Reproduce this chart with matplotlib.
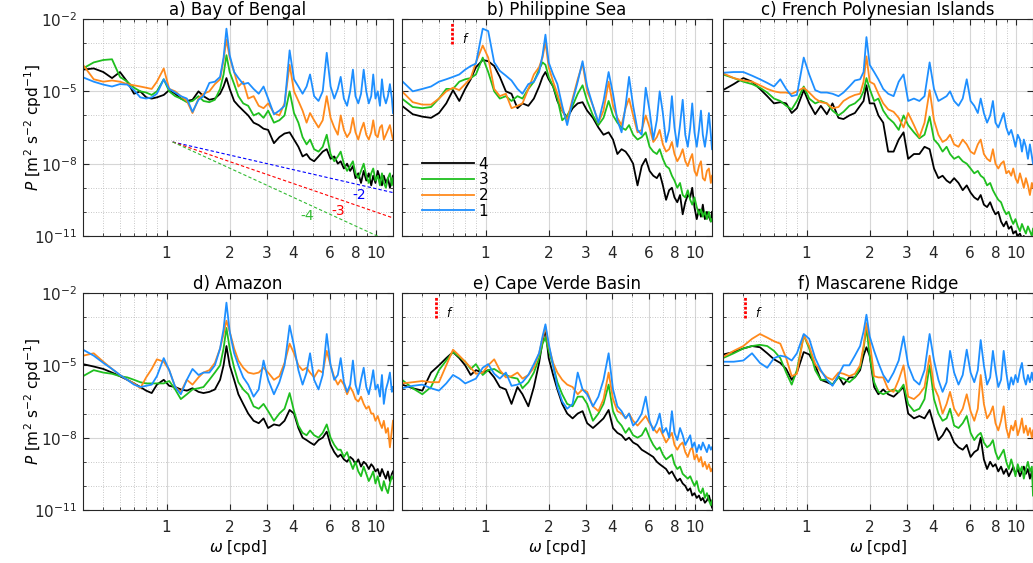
import numpy as np
import matplotlib.pyplot as plt
from matplotlib.ticker import FixedLocator, NullFormatter

plt.rcParams.update({
    'font.family': 'DejaVu Sans',
    'font.size': 11,
    'axes.linewidth': 0.8,
    'axes.edgecolor': '#262626',
    'xtick.color': '#262626',
    'ytick.color': '#262626',
})

# ========== DATA (frequency in cpd, spectra stored as log10 P) ==========
freq = [0.40, 0.45, 0.50, 0.55, 0.60, 0.65, 0.70, 0.75, 0.80, 0.85, 0.90, 0.97,
        1.03, 1.10, 1.17, 1.25, 1.33, 1.42, 1.50, 1.60, 1.70, 1.80, 1.87, 1.93,
        2.00, 2.10, 2.20, 2.32, 2.45, 2.60, 2.75, 2.90, 3.05, 3.25, 3.45, 3.65,
        3.86, 4.05, 4.25, 4.45, 4.65, 4.83, 5.05, 5.30, 5.55, 5.80, 6.05, 6.30,
        6.55, 6.76, 7.00, 7.25, 7.50, 7.73, 7.95, 8.20, 8.45, 8.70, 8.95, 9.20,
        9.45, 9.66, 9.90, 10.15, 10.40, 10.63, 10.85, 11.10, 11.35, 11.60, 11.85, 12.0]

# a) Bay of Bengal
bengal_4 = [-4.1, -4.05, -4.2, -4.45, -4.2, -4.6, -5.1, -5.0, -5.25, -5.3, -5.25, -5.15,
            -4.95, -5.1, -5.3, -5.4, -5.35, -5.0, -5.2, -5.35, -5.3, -5.1, -4.8, -4.45,
            -4.9, -5.4, -5.6, -5.8, -6.0, -6.3, -6.4, -6.55, -6.6, -7.15, -6.9, -6.75,
            -6.7, -7.0, -7.3, -7.7, -7.6, -7.8, -7.9, -7.7, -7.5, -7.4, -7.8, -7.7,
            -8.0, -7.9, -8.2, -8.0, -8.3, -8.1, -8.6, -8.4, -8.8, -8.3, -8.7, -8.4,
            -8.9, -8.5, -8.8, -8.3, -8.6, -8.9, -8.5, -8.8, -8.6, -9.0, -8.7, -8.5]
bengal_3 = [-4.05, -3.8, -3.7, -3.67, -4.4, -4.6, -4.85, -5.0, -5.05, -5.15, -5.0, -4.5,
            -5.0, -5.2, -5.3, -5.45, -5.4, -5.2, -5.4, -5.45, -5.35, -4.9, -4.3, -3.5,
            -4.2, -4.7, -5.2, -5.5, -5.6, -6.0, -5.9, -6.1, -5.8, -6.3, -6.2, -6.0,
            -5.0, -5.9, -6.3, -6.9, -7.2, -7.0, -7.4, -7.5, -7.3, -6.8, -7.6, -7.9,
            -7.7, -7.5, -8.0, -8.3, -8.1, -7.9, -8.4, -8.6, -8.3, -8.0, -8.5, -8.8,
            -8.4, -8.2, -8.7, -8.5, -8.9, -8.4, -8.8, -9.0, -8.6, -8.4, -8.9, -8.6]
bengal_2 = [-3.9, -4.5, -4.6, -4.55, -4.6, -4.7, -4.75, -4.8, -4.85, -4.9, -4.6, -4.05,
            -4.9, -5.0, -5.2, -5.4, -5.9, -5.3, -5.1, -5.0, -4.7, -4.5, -3.7, -2.85,
            -3.6, -4.2, -4.8, -4.6, -5.3, -5.2, -5.6, -5.7, -5.5, -5.9, -6.0, -5.5,
            -3.9, -5.0, -5.4, -5.8, -6.3, -5.9, -6.2, -6.5, -6.2, -5.2, -6.1, -6.5,
            -6.8, -6.0, -6.6, -6.9, -6.7, -6.1, -6.7, -7.0, -6.6, -6.3, -6.8, -7.0,
            -6.7, -6.2, -6.8, -6.9, -6.5, -6.4, -7.0, -6.8, -6.6, -6.4, -6.8, -7.0]
bengal_1 = [-4.42, -4.6, -4.72, -4.8, -4.7, -4.72, -4.95, -5.25, -5.3, -5.25, -5.1, -4.5,
            -4.9, -5.05, -5.2, -5.3, -5.85, -5.35, -5.2, -4.65, -4.6, -4.4, -3.6, -2.4,
            -3.5, -4.2, -4.45, -4.7, -4.65, -4.9, -5.1, -4.8, -5.3, -5.95, -5.8, -5.6,
            -3.3, -4.5, -4.8, -5.1, -4.8, -4.3, -5.2, -5.4, -5.0, -3.4, -4.8, -5.3,
            -4.9, -4.4, -5.3, -5.6, -5.0, -4.1, -5.2, -5.5, -5.1, -4.1, -5.0, -5.5,
            -5.2, -4.3, -5.3, -5.0, -5.6, -4.5, -5.2, -5.5, -5.2, -4.7, -5.3, -5.9]

# b) Philippine Sea
philippine_4 = [-5.6, -5.95, -6.05, -6.1, -5.9, -5.5, -4.95, -5.4, -4.9, -4.5, -4.0, -3.7,
                -3.75, -3.95, -4.4, -5.0, -5.1, -5.7, -5.5, -5.6, -5.3, -4.8, -4.4, -4.2,
                -4.5, -4.8, -5.4, -5.8, -6.1, -5.7, -5.5, -5.45, -5.8, -6.1, -6.5, -6.8,
                -6.7, -7.0, -7.6, -7.4, -7.5, -7.7, -8.0, -8.9, -8.1, -7.8, -8.3, -8.5,
                -8.6, -8.4, -8.9, -9.5, -9.1, -9.0, -9.4, -9.6, -9.3, -10.1, -9.6, -9.3,
                -9.4, -9.0, -9.8, -10.3, -9.9, -10.2, -9.7, -10.3, -10.0, -10.2, -10.4, -10.0]
philippine_3 = [-5.3, -5.65, -5.7, -5.65, -5.3, -4.9, -4.9, -4.6, -4.5, -4.45, -4.3, -3.6,
                -4.2, -5.0, -5.3, -5.2, -5.4, -5.2, -5.3, -4.9, -4.6, -4.1, -3.8, -3.9,
                -4.4, -4.8, -5.3, -6.2, -6.0, -5.6, -5.1, -4.75, -5.4, -6.0, -6.4, -6.1,
                -5.4, -6.0, -6.3, -6.5, -6.6, -6.4, -6.8, -7.0, -6.9, -6.7, -7.3, -7.5,
                -7.6, -7.4, -7.8, -8.1, -8.2, -8.5, -8.7, -9.0, -8.8, -9.3, -9.4, -9.1,
                -9.5, -9.7, -9.4, -9.8, -10.1, -9.9, -10.2, -10.0, -10.3, -10.0, -10.4, -10.3]
philippine_2 = [-5.0, -5.45, -5.55, -5.55, -5.3, -5.0, -4.85, -4.95, -4.7, -4.45, -3.8, -3.1,
                -3.6, -4.9, -5.2, -5.1, -5.7, -5.6, -5.5, -4.9, -4.3, -4.0, -3.6, -2.95,
                -4.0, -4.6, -5.1, -5.8, -6.2, -5.3, -4.5, -3.85, -5.0, -5.6, -6.3, -5.8,
                -4.6, -5.6, -6.1, -6.4, -5.7, -5.3, -6.0, -6.7, -6.6, -6.0, -6.5, -7.1,
                -6.9, -6.6, -7.2, -7.5, -7.4, -7.1, -7.6, -7.9, -7.7, -7.4, -7.9, -8.1,
                -7.8, -7.6, -8.3, -8.5, -8.1, -7.9, -8.6, -8.7, -8.3, -8.2, -8.8, -8.5]
philippine_1 = [-4.57, -5.0, -4.9, -4.8, -4.6, -4.5, -4.4, -4.3, -4.1, -3.95, -3.85, -2.4,
                -2.5, -3.8, -4.15, -4.35, -4.55, -4.9, -5.1, -4.7, -4.6, -4.2, -3.5, -2.65,
                -3.8, -4.3, -4.7, -5.6, -6.4, -5.4, -4.6, -3.75, -4.8, -5.6, -6.3, -5.4,
                -4.2, -5.1, -6.2, -6.7, -5.6, -4.4, -5.6, -6.6, -6.8, -4.85, -5.8, -7.0,
                -6.2, -5.0, -5.9, -7.1, -6.6, -5.2, -6.5, -7.3, -6.4, -5.35, -6.8, -7.3,
                -6.5, -5.5, -6.7, -7.3, -6.6, -5.8, -6.8, -7.3, -6.7, -5.9, -6.8, -7.4]

# c) French Polynesian Islands
polynesia_4 = [-4.95, -4.7, -4.45, -4.6, -4.9, -5.2, -5.5, -5.45, -5.5, -5.9, -5.7, -4.95,
               -5.5, -5.95, -5.6, -5.95, -5.5, -6.1, -6.15, -6.0, -5.9, -5.6, -5.4, -4.75,
               -5.5, -5.5, -6.0, -6.3, -7.5, -7.5, -7.0, -6.7, -7.8, -7.6, -7.6, -7.3,
               -7.4, -8.2, -8.6, -8.5, -8.7, -8.8, -8.6, -8.8, -9.1, -8.9, -9.2, -9.4,
               -9.5, -9.3, -9.7, -9.8, -9.6, -9.9, -10.1, -10.0, -10.4, -10.6, -10.4, -10.7,
               -10.6, -10.9, -10.8, -11.0, -10.9, -11.1, -11.0, -11.2, -11.1, -11.2, -11.1, -11.2]
polynesia_3 = [-4.3, -4.45, -4.6, -4.7, -4.85, -5.05, -5.3, -5.4, -5.6, -5.75, -5.4, -4.8,
               -5.3, -5.5, -5.4, -5.5, -5.8, -6.0, -5.85, -5.6, -5.5, -5.3, -5.0, -4.45,
               -4.9, -5.4, -5.3, -5.8, -6.1, -6.3, -6.6, -6.0, -6.4, -6.7, -6.95, -6.8,
               -6.05, -7.0, -7.2, -7.5, -7.3, -7.6, -7.8, -7.7, -7.9, -8.0, -8.2, -8.4,
               -8.3, -8.5, -8.6, -8.9, -8.8, -9.1, -9.3, -9.5, -9.6, -9.9, -10.1, -10.0,
               -10.3, -10.5, -10.3, -10.6, -10.8, -10.5, -10.7, -10.9, -10.6, -10.8, -11.0, -10.7]
polynesia_2 = [-4.25, -4.45, -4.55, -4.6, -4.75, -4.9, -5.0, -5.05, -5.05, -5.1, -5.0, -4.85,
               -5.05, -5.3, -5.45, -5.5, -5.7, -5.65, -5.4, -5.25, -5.15, -5.1, -4.6, -3.55,
               -4.6, -4.7, -5.1, -5.5, -5.75, -5.85, -6.1, -6.5, -5.9, -6.4, -6.9, -6.3,
               -4.95, -6.2, -6.8, -7.1, -7.0, -6.8, -7.2, -7.3, -7.0, -7.2, -7.5, -7.6,
               -7.2, -7.0, -7.6, -7.8, -7.9, -7.4, -8.0, -8.2, -8.0, -7.9, -8.4, -8.3,
               -8.5, -8.2, -8.6, -8.8, -8.4, -8.7, -9.0, -8.6, -8.9, -9.3, -8.8, -9.0]
polynesia_1 = [-4.23, -4.2, -4.2, -4.35, -4.5, -4.65, -4.8, -4.5, -4.9, -5.2, -5.15, -3.6,
               -4.3, -4.95, -5.05, -5.05, -5.1, -5.2, -5.05, -4.8, -4.55, -4.5, -4.2, -2.75,
               -3.9, -4.2, -4.5, -4.9, -5.1, -5.2, -4.6, -4.3, -5.4, -5.3, -5.4, -5.2,
               -3.8, -4.9, -5.4, -5.3, -5.2, -5.0, -5.4, -5.6, -5.3, -4.5, -5.4, -5.6,
               -5.9, -5.3, -5.9, -6.3, -6.0, -5.4, -6.3, -6.5, -6.2, -5.9, -6.5, -6.8,
               -6.6, -6.9, -7.3, -6.8, -7.0, -7.5, -7.0, -7.3, -7.8, -7.2, -7.7, -8.0]

# d) Amazon
amazon_4 = [-4.95, -5.05, -5.15, -5.3, -5.45, -5.6, -5.75, -5.9, -6.05, -6.15, -5.8, -5.6,
            -5.85, -5.9, -6.0, -6.05, -5.95, -6.1, -6.15, -6.1, -6.0, -5.6, -5.0, -4.2,
            -5.0, -5.6, -6.2, -6.6, -7.0, -7.3, -7.4, -7.2, -7.6, -7.45, -7.5, -7.3,
            -6.85, -7.0, -7.6, -8.0, -8.1, -8.2, -8.3, -8.1, -8.0, -7.75, -8.3, -8.6,
            -8.8, -8.7, -8.9, -9.0, -8.8, -8.9, -9.1, -8.9, -9.2, -9.0, -9.1, -9.3,
            -9.1, -9.2, -9.4, -9.3, -9.6, -9.3, -9.5, -9.7, -9.4, -9.8, -9.5, -9.4]
amazon_3 = [-5.45, -5.2, -5.3, -5.35, -5.45, -5.5, -5.6, -5.7, -5.75, -5.75, -5.75, -5.75,
            -5.65, -6.0, -6.4, -6.2, -6.0, -5.95, -5.9, -5.6, -5.3, -5.0, -4.3, -3.45,
            -4.3, -5.1, -5.7, -6.0, -6.2, -6.7, -6.8, -6.6, -6.9, -7.3, -7.0, -6.8,
            -6.15, -6.9, -7.5, -7.8, -7.9, -7.7, -7.9, -8.0, -7.8, -7.45, -8.0, -8.3,
            -8.5, -8.5, -8.8, -8.6, -9.0, -9.3, -9.0, -9.4, -9.6, -9.2, -9.5, -9.8,
            -9.6, -9.4, -9.9, -9.6, -10.0, -10.2, -9.8, -10.1, -10.3, -9.9, -9.6, -9.7]
amazon_2 = [-4.6, -4.5, -4.85, -5.15, -5.4, -5.6, -5.75, -5.95, -5.5, -5.15, -4.75, -4.85,
            -5.2, -5.9, -6.1, -5.6, -5.8, -5.5, -5.3, -5.2, -4.9, -4.3, -3.7, -3.15,
            -3.6, -4.3, -4.8, -5.1, -5.3, -5.35, -5.3, -5.1, -5.3, -5.6, -5.45, -4.9,
            -4.1, -4.5, -5.0, -5.2, -5.1, -5.3, -5.5, -5.2, -5.3, -4.4, -5.0, -5.5,
            -5.8, -5.6, -5.8, -6.2, -5.9, -6.1, -6.4, -6.5, -6.3, -6.6, -6.8, -6.7,
            -7.0, -7.0, -7.3, -7.1, -7.4, -7.6, -7.3, -7.8, -7.6, -8.4, -7.7, -7.3]
amazon_1 = [-4.35, -4.6, -4.9, -5.15, -5.4, -5.6, -5.8, -5.9, -5.85, -5.8, -5.45, -4.7,
            -5.2, -5.9, -6.2, -5.6, -5.15, -5.4, -5.3, -5.3, -5.0, -4.3, -3.5, -2.4,
            -3.6, -4.5, -5.0, -5.5, -5.8, -6.3, -6.0, -4.8, -5.6, -6.2, -5.7, -5.0,
            -3.35, -4.2, -5.2, -5.8, -5.3, -4.5, -5.6, -6.0, -5.4, -3.7, -5.0, -5.6,
            -5.4, -4.7, -5.7, -6.1, -5.8, -4.8, -5.8, -6.2, -5.6, -5.1, -5.9, -6.2,
            -5.7, -5.2, -6.0, -5.8, -6.3, -5.4, -6.6, -6.0, -5.7, -5.3, -6.1, -5.9]

# e) Cape Verde Basin
capeverde_4 = [-5.8, -5.95, -6.05, -5.3, -5.0, -4.7, -4.45, -4.7, -5.0, -5.4, -5.2, -5.3,
               -5.2, -5.5, -5.9, -6.0, -6.6, -5.9, -6.2, -6.7, -5.9, -4.9, -4.0, -3.5,
               -4.7, -5.4, -6.0, -6.6, -7.0, -7.2, -7.0, -6.9, -7.4, -7.6, -7.4, -7.2,
               -6.85, -7.6, -7.8, -7.9, -8.1, -8.0, -8.2, -8.3, -8.5, -8.6, -8.7, -8.8,
               -9.0, -9.1, -9.2, -9.3, -9.5, -9.4, -9.6, -9.8, -9.7, -9.9, -10.0, -10.2,
               -10.1, -10.4, -10.3, -10.5, -10.4, -10.6, -10.5, -10.7, -10.6, -10.4, -10.7, -10.9]
capeverde_3 = [-5.6, -5.95, -6.2, -5.9, -5.2, -4.8, -4.45, -4.65, -4.85, -5.15, -4.95, -5.4,
               -5.2, -5.15, -5.3, -5.4, -5.5, -5.55, -5.95, -5.7, -5.3, -4.7, -4.1, -3.85,
               -4.4, -5.0, -5.7, -6.2, -6.6, -6.7, -6.3, -6.3, -6.6, -7.3, -7.0, -6.6,
               -5.8, -6.9, -7.3, -7.5, -7.8, -7.6, -7.9, -8.0, -7.9, -7.6, -8.0, -8.3,
               -8.5, -8.4, -8.7, -8.9, -8.8, -8.7, -9.1, -9.3, -9.2, -9.5, -9.6, -9.7,
               -9.6, -9.8, -10.0, -9.8, -10.2, -10.3, -10.1, -10.5, -10.3, -10.6, -10.8, -10.6]
capeverde_2 = [-5.75, -5.7, -5.65, -5.7, -5.7, -5.0, -4.35, -4.6, -4.85, -5.1, -5.35, -5.3,
               -5.0, -4.75, -5.2, -5.5, -5.45, -5.3, -5.55, -5.4, -5.1, -4.5, -3.9, -3.4,
               -4.2, -4.9, -5.3, -5.6, -5.8, -5.9, -6.2, -6.0, -6.1, -6.7, -6.9, -6.4,
               -5.3, -6.4, -6.9, -7.0, -7.2, -7.0, -7.3, -7.5, -7.3, -7.1, -7.4, -7.6,
               -7.8, -7.6, -7.9, -8.2, -8.0, -7.8, -8.3, -8.5, -8.3, -8.2, -8.6, -8.8,
               -8.5, -8.4, -8.9, -8.7, -9.0, -8.8, -9.2, -9.0, -9.3, -9.1, -9.4, -9.3]
capeverde_1 = [-5.95, -5.85, -5.8, -5.95, -6.05, -5.75, -5.4, -5.55, -5.75, -5.65, -5.55, -5.1,
               -4.95, -5.35, -5.55, -5.3, -5.85, -5.8, -5.7, -5.4, -4.95, -4.5, -3.8, -3.3,
               -4.1, -5.0, -5.9, -6.5, -6.8, -6.6, -5.3, -6.0, -6.2, -6.7, -6.3, -5.6,
               -4.5, -6.0, -6.7, -6.9, -7.2, -7.0, -7.5, -7.3, -7.0, -6.3, -7.3, -7.7,
               -7.4, -7.0, -7.8, -7.6, -8.0, -6.9, -7.8, -8.1, -7.6, -7.9, -8.3, -8.1,
               -7.9, -8.4, -8.2, -8.6, -8.3, -8.5, -8.2, -8.4, -8.6, -8.3, -8.5, -8.4]

# f) Mascarene Ridge
mascarene_4 = [-4.55, -4.45, -4.3, -4.2, -4.25, -4.5, -4.75, -4.9, -5.15, -5.6, -5.3, -4.45,
               -4.55, -5.0, -5.6, -5.7, -5.8, -5.45, -5.8, -5.5, -5.5, -5.2, -4.6, -4.25,
               -4.6, -5.9, -6.2, -6.0, -6.2, -6.3, -6.1, -5.9, -7.0, -7.2, -7.1, -7.2,
               -6.85, -7.5, -8.1, -7.9, -7.6, -7.8, -8.2, -8.4, -8.5, -8.3, -8.8, -8.6,
               -8.5, -8.0, -8.9, -9.3, -9.0, -9.2, -9.1, -9.4, -9.2, -9.5, -9.3, -9.6,
               -9.4, -9.2, -9.5, -9.3, -9.6, -9.4, -9.2, -9.5, -9.3, -9.7, -9.4, -9.8]
mascarene_3 = [-4.7, -4.5, -4.3, -4.2, -4.15, -4.2, -4.4, -4.7, -5.3, -5.8, -5.2, -3.75,
               -4.3, -5.2, -5.6, -5.6, -5.8, -5.5, -5.55, -5.7, -5.5, -5.1, -4.3, -3.45,
               -4.6, -5.7, -6.1, -6.2, -6.1, -6.0, -6.1, -5.8, -6.6, -6.9, -6.8, -6.4,
               -5.0, -6.4, -7.0, -7.3, -7.2, -6.8, -7.5, -7.6, -7.4, -7.1, -7.8, -8.1,
               -7.9, -7.8, -8.2, -8.4, -8.3, -8.1, -8.6, -8.9, -8.7, -8.5, -9.0, -9.3,
               -8.9, -9.2, -9.6, -9.1, -9.4, -9.2, -9.7, -9.3, -9.0, -9.4, -9.2, -10.4]
mascarene_2 = [-4.65, -4.4, -4.2, -3.9, -3.7, -3.85, -4.0, -4.1, -4.7, -5.45, -5.35, -3.75,
               -4.2, -4.95, -5.25, -5.5, -5.6, -5.3, -5.35, -5.45, -5.35, -5.0, -4.2, -3.25,
               -4.0, -5.45, -5.5, -5.5, -6.0, -6.1, -5.6, -5.0, -6.3, -6.4, -6.2, -5.9,
               -4.6, -5.9, -6.3, -7.0, -6.6, -6.1, -6.8, -7.1, -6.8, -6.2, -6.9, -7.3,
               -6.8, -5.4, -6.6, -7.2, -7.0, -6.7, -7.4, -7.7, -7.3, -6.7, -7.6, -8.0,
               -7.5, -7.7, -7.3, -7.9, -7.6, -7.2, -7.8, -7.5, -7.9, -7.6, -8.0, -7.7]
mascarene_1 = [-4.85, -4.85, -4.8, -4.5, -4.9, -5.1, -4.7, -4.6, -4.65, -4.8, -4.5, -3.7,
               -3.9, -4.7, -5.2, -5.6, -5.85, -5.4, -5.0, -5.0, -4.6, -4.2, -3.6, -2.9,
               -3.8, -4.4, -4.9, -5.4, -5.7, -5.3, -4.8, -3.8, -5.0, -5.6, -5.8, -5.2,
               -3.7, -4.8, -5.6, -6.1, -5.7, -4.4, -5.3, -5.8, -5.4, -4.35, -5.3, -5.7,
               -5.2, -3.95, -5.0, -5.8, -5.5, -4.4, -5.2, -5.9, -5.6, -4.4, -5.3, -6.0,
               -5.5, -5.8, -5.4, -5.7, -5.2, -4.9, -5.5, -5.8, -5.4, -5.7, -5.3, -5.6]

titles = ['a) Bay of Bengal', 'b) Philippine Sea', 'c) French Polynesian Islands',
          'd) Amazon', 'e) Cape Verde Basin', 'f) Mascarene Ridge']
panel_series = [
    [bengal_4, bengal_3, bengal_2, bengal_1],
    [philippine_4, philippine_3, philippine_2, philippine_1],
    [polynesia_4, polynesia_3, polynesia_2, polynesia_1],
    [amazon_4, amazon_3, amazon_2, amazon_1],
    [capeverde_4, capeverde_3, capeverde_2, capeverde_1],
    [mascarene_4, mascarene_3, mascarene_2, mascarene_1],
]
series_labels = ['4', '3', '2', '1']
series_colors = ['black', '#1fbf1f', '#ff8a1c', '#1e8fff']

# local inertial frequency (cpd), None where outside the axis
f_inertial = [None, 0.69, None, None, 0.58, 0.51]

# reference slopes in panel a
slope_x = [1.07, 12.0]
slope_y0 = 10 ** -7.1
slopes = [-2, -3, -4]
slope_colors = ['blue', 'red', '#33bb33']
slope_text_pos = [(8.3, 10 ** -9.3), (6.6, 10 ** -9.95), (4.7, 10 ** -10.15)]

# ========== FIGURE ==========
fig = plt.figure(figsize=(10.33, 5.63), dpi=100)
lefts = [83, 402, 723]
tops = [19, 293]
W, H = 1033.0, 563.0
aw, ah = 310, 217

xmaj = [1, 2, 3, 4, 6, 8, 10]
xmin = [0.5, 0.6, 0.7, 0.8, 0.9, 5, 7, 9]
ymaj = [1e-11, 1e-8, 1e-5, 1e-2]
ymin = [1e-10, 1e-9, 1e-7, 1e-6, 1e-4, 1e-3]

for k in range(6):
    row, col = divmod(k, 3)
    ax = fig.add_axes([lefts[col] / W, 1 - (tops[row] + ah) / H, aw / W, ah / H])
    ax.set_xscale('log')
    ax.set_yscale('log')

    for vals, lab, c in zip(panel_series[k], series_labels, series_colors):
        ax.plot(freq, 10.0 ** np.array(vals), color=c, lw=1.3, label=lab)

    ax.set_xlim(0.4, 12)
    ax.set_ylim(1e-11, 1e-2)
    ax.xaxis.set_major_locator(FixedLocator(xmaj))
    ax.xaxis.set_minor_locator(FixedLocator(xmin))
    ax.set_xticklabels([str(v) for v in xmaj])
    ax.xaxis.set_minor_formatter(NullFormatter())
    ax.yaxis.set_major_locator(FixedLocator(ymaj))
    ax.yaxis.set_minor_locator(FixedLocator(ymin))
    ax.yaxis.set_minor_formatter(NullFormatter())
    if col == 0:
        ax.set_yticklabels([r'$10^{-11}$', r'$10^{-8}$', r'$10^{-5}$', r'$10^{-2}$'])
        ax.set_ylabel(r'$P$ [m$^2$ s$^{-2}$ cpd$^{-1}$]')
        ax.yaxis.set_label_coords(-0.125, 0.5)
    else:
        ax.set_yticklabels([])
    if row == 1:
        ax.set_xlabel(r'$\omega$ [cpd]')
        ax.xaxis.set_label_coords(0.5, -0.13)

    ax.tick_params(which='both', direction='in', top=True, right=True)
    ax.tick_params(which='major', length=4)
    ax.tick_params(axis='x', which='major', pad=7)
    ax.tick_params(axis='y', which='major', pad=4)
    ax.tick_params(which='minor', length=2)
    ax.grid(which='major', color='#d6d6d6', lw=0.8, ls='-')
    ax.grid(which='minor', color='#b5b5b5', lw=0.6, ls=(0, (1, 2)))
    ax.set_axisbelow(True)
    ax.set_title(titles[k], fontsize=12, pad=1)

    fi = f_inertial[k]
    if fi is not None:
        ax.plot([fi, fi], [10 ** -3.05, 10 ** -2.12], color='red', lw=2,
                ls=(0, (1, 0.6)))
        ax.text(fi * 1.12, 10 ** -2.85, 'f', fontsize=8.5, style='italic',
                va='center', ha='left')

    if k == 0:
        for s, c, (tx, ty) in zip(slopes, slope_colors, slope_text_pos):
            xs = np.array(slope_x)
            ax.plot(xs, slope_y0 * (xs / slope_x[0]) ** s, color=c, lw=0.8,
                    ls=(0, (3, 2)))
            ax.text(tx, ty, str(s), color=c, fontsize=10, ha='center', va='center')

    if k == 1:
        ax.legend(loc='lower left', bbox_to_anchor=(0.03, 0.03), frameon=False,
                  handlelength=3.4, labelspacing=0.05, handletextpad=0.3,
                  borderpad=0.2, fontsize=11)

fig.savefig('out.png', dpi=100)
